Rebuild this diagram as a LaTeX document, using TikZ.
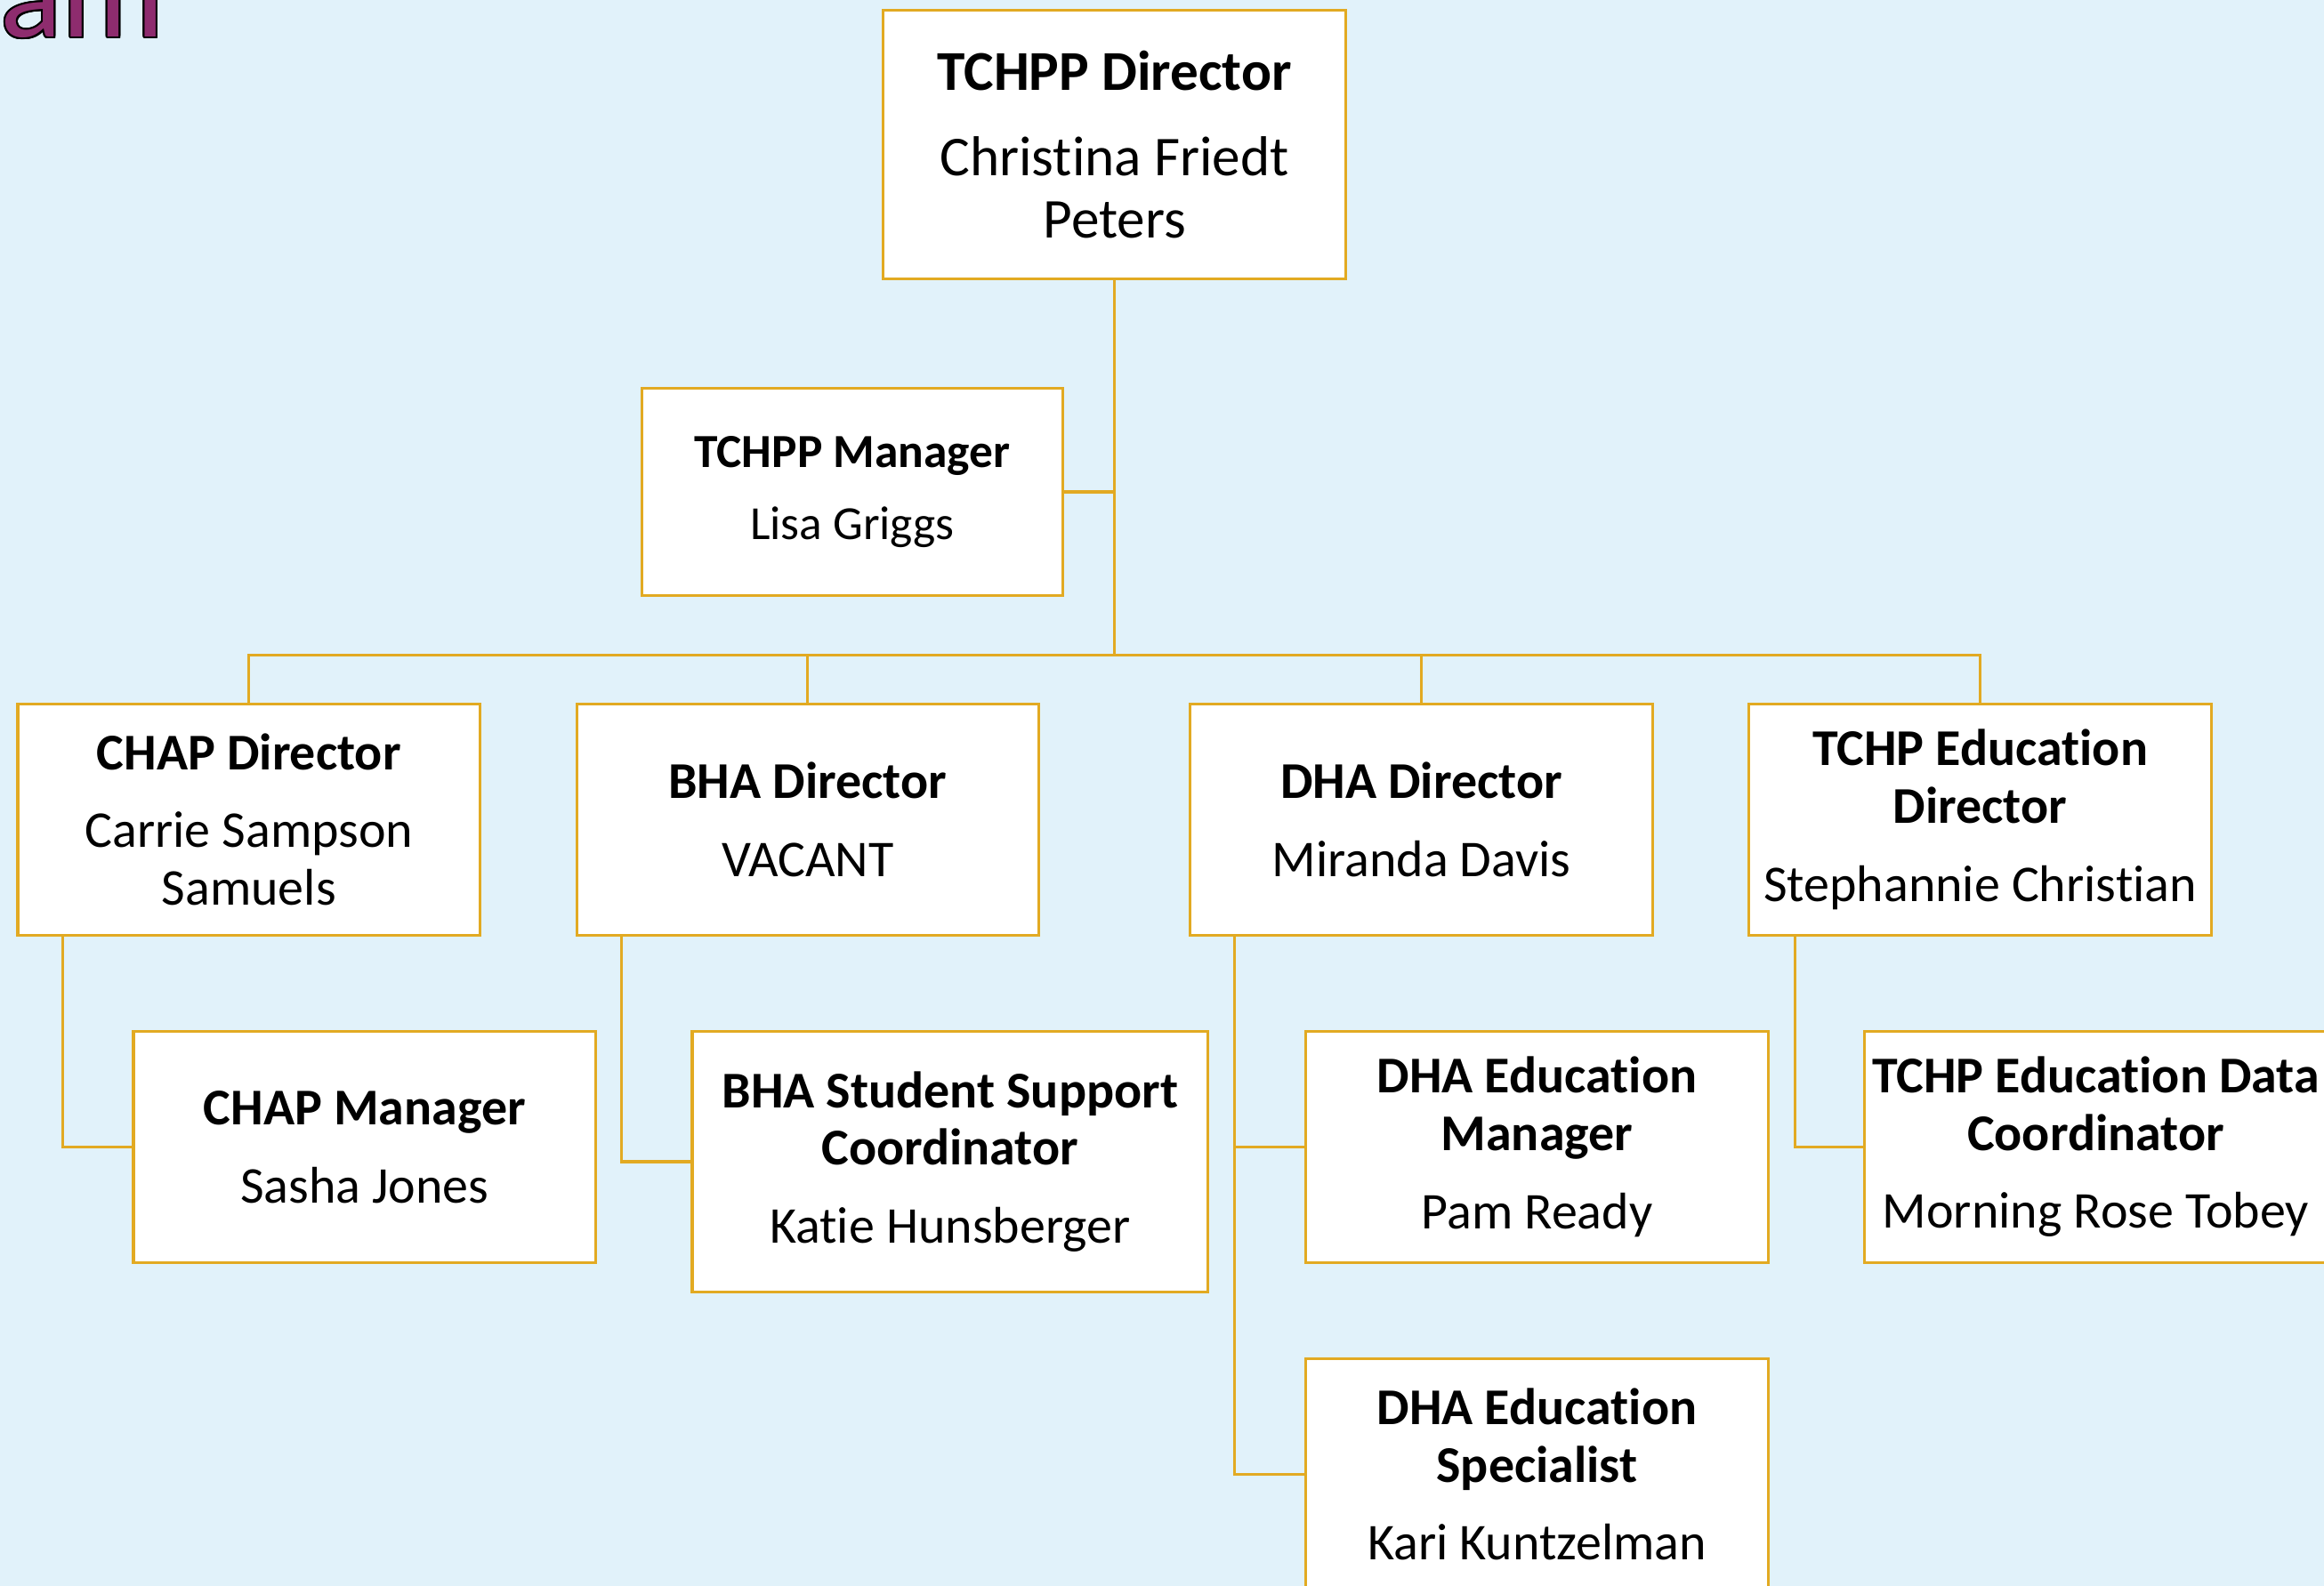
\documentclass[tikz,border=0pt]{standalone}
\usepackage{fontspec}
\setmainfont{Carlito}[Ligatures={NoCommon}]
\usepackage{xcolor}
\usepackage[copies]{contour}
\usetikzlibrary{positioning, calc}
\definecolor{boxgold}{RGB}{226,170,34}
\definecolor{slidebg}{RGB}{225,242,250}
\definecolor{titlepurple}{RGB}{142,44,110}
\contourlength{0.6pt}
\tikzstyle{orgbox} = [rectangle, draw=boxgold, line width=0.9pt, fill=white, align=center, inner sep=0pt, minimum width=5.197cm, minimum height=2.599cm, font=\fontsize{16.5}{18.4}\selectfont]
\tikzstyle{topbox} = [orgbox, minimum height=3.015cm, font=\fontsize{18}{19.9}\selectfont]
\tikzstyle{link} = [draw=boxgold, line width=0.9pt]

\begin{document}
\begin{tikzpicture}[x=0.016658cm, y=-0.016658cm]
        % Background
        \fill[slidebg] (0,0) rectangle (1568,1070.3);
        \useasboundingbox (0,0) rectangle (1568,1070.3);
        \node (slidetitle) [anchor=base west, inner sep=0pt, font=\fontsize{41}{43}\selectfont] at (0,25) {\contour{black}{\textcolor{titlepurple}{am}}};

        % Nodes
        \node (tchppdir) [topbox] at (752,97.5) {\textbf{TCHPP Director}\\[7.5pt] Christina Friedt\\ Peters};
        \node (tchppmgr) [orgbox, minimum width=4.731cm, minimum height=2.332cm, font=\fontsize{15.2}{17}\selectfont] at (575,332) {\textbf{TCHPP Manager}\\[6pt] Lisa Griggs};
        \node (chapdir) [orgbox] at (168,553) {\textbf{CHAP Director}\\[6.6pt] Carrie Sampson\\ Samuels};
        \node (bhadir) [orgbox] at (545,553) {\textbf{BHA Director}\\[6.6pt] VACANT};
        \node (dhadir) [orgbox] at (959,553) {\textbf{DHA Director}\\[6.6pt] Miranda Davis};
        \node (tchpedu) [orgbox] at (1336,553) {\textbf{TCHP Education}\\ \textbf{Director}\\[6.6pt] Stephannie Christian};
        \node (chapmgr) [orgbox] at (246,774) {\textbf{CHAP Manager}\\[6.6pt] Sasha Jones};
        \node (bhassc) [orgbox, minimum width=5.797cm, minimum height=2.932cm] at (641,784) {\textbf{BHA Student Support}\\ \textbf{Coordinator}\\[6.6pt] Katie Hunsberger};
        \node (dhamgr) [orgbox] at (1037,774) {\textbf{DHA Education}\\ \textbf{Manager}\\[6.6pt] Pam Ready};
        \node (dhaspec) [orgbox] at (1037,995) {\textbf{DHA Education}\\ \textbf{Specialist}\\[6.6pt] Kari Kuntzelman};
        \node (tchpdata) [orgbox] at (1414,774) {\textbf{TCHP Education Data}\\ \textbf{Coordinator}\\[6.6pt] Morning Rose Tobey};

        % Lines
        \coordinate (bus) at (752,442);
        \draw [link] (tchppdir) -- (bus);
        \draw [link] (tchppmgr.east) -- (tchppmgr.east -| bus);
        \draw [link] (bus) -| (chapdir);
        \draw [link] (bus) -| (bhadir);
        \draw [link] (bus) -| (dhadir);
        \draw [link] (bus) -| (tchpedu);
        \coordinate (chapspine) at ($(chapdir.south west)+(31,0)$);
        \coordinate (bhaspine) at ($(bhadir.south west)+(31,0)$);
        \coordinate (dhaspine) at ($(dhadir.south west)+(31,0)$);
        \coordinate (eduspine) at ($(tchpedu.south west)+(32,0)$);
        \draw [link] (chapspine) |- (chapmgr);
        \draw [link] (bhaspine) |- (bhassc);
        \draw [link] (dhaspine) |- (dhamgr);
        \draw [link] (dhaspine) |- (dhaspec);
        \draw [link] (eduspine) |- (tchpdata);
    \end{tikzpicture}
\end{document}
